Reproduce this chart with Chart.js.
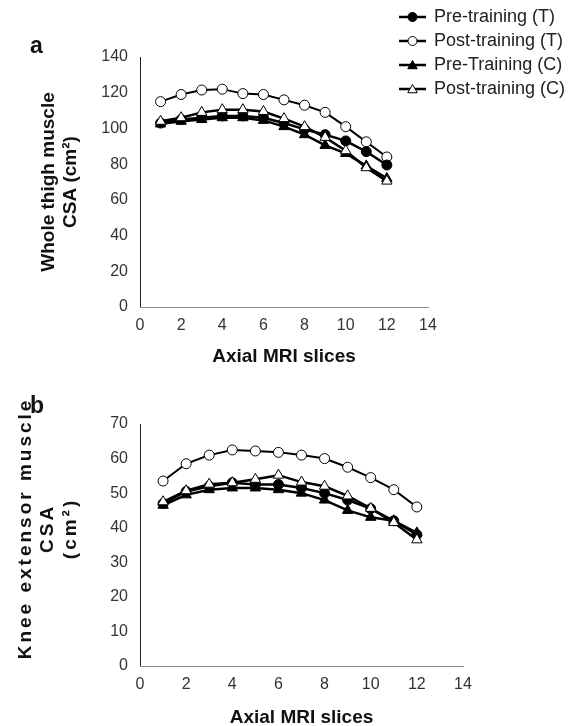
<!DOCTYPE html>
<html>
<head>
<meta charset="utf-8">
<script src="https://cdn.jsdelivr.net/npm/chart.js@4.4.1/dist/chart.umd.min.js"></script>
<style>
  body { margin: 0; background: #fff; font-family: "Liberation Sans", Arial, sans-serif; }
  #wrap { position: relative; width: 573px; height: 726px; overflow: hidden; }
  .panel { position: absolute; left: 0; }
  .tag { position: absolute; font-weight: bold; font-size: 23px; color: #111; line-height: 1; }
</style>
</head>
<body>
<div id="wrap">
  <canvas id="chartA" class="panel" style="top:0" width="573" height="372"></canvas>
  <canvas id="chartB" class="panel" style="top:372px" width="573" height="354"></canvas>
  <div class="tag" style="left:30px;top:34px">a</div>
  <div class="tag" style="left:30px;top:394px">b</div>
</div>
<script>
const slices = [1, 2, 3, 4, 5, 6, 7, 8, 9, 10, 11, 12];
const seriesNames = ['Pre-training (T)', 'Post-training (T)', 'Pre-Training (C)', 'Post-training (C)'];

// panel a - whole thigh CSA (cm2)
const thighPreT  = [103, 105, 106, 107, 107, 106, 103, 99.5, 96.5, 93, 87, 79.5];
const thighPostT = [115, 119, 121.5, 122, 119.5, 119, 116, 113, 109, 101, 92.5, 84];
const thighPreC  = [102.5, 104, 105, 106, 106, 104.5, 101, 96.5, 90.5, 86, 79, 72];
const thighPostC = [104, 106, 109, 110.5, 110.5, 109.5, 105.5, 101, 95, 87.5, 78, 70.5];

// panel b - knee extensor CSA (cm2)
const kneePreT  = [47, 50.5, 52, 53, 52.5, 52.5, 51.5, 50, 48, 45.5, 42, 38];
const kneePostT = [53.5, 58.5, 61, 62.5, 62.2, 61.8, 61, 60, 57.5, 54.5, 51, 46];
const kneePreC  = [46.5, 49.5, 51, 51.5, 51.5, 51, 50, 48, 45, 43, 42, 38.5];
const kneePostC = [47.5, 50.7, 52.6, 53, 54, 55.2, 53.2, 52, 49.2, 45.6, 41.5, 36.5];

const xTicks = [0, 2, 4, 6, 8, 10, 12, 14];

const FONT = '"Liberation Sans", Arial, sans-serif';
const styles = [
  { pointStyle: 'circle',   fill: '#000', radius: 5, width: 2.5, order: 2 },
  { pointStyle: 'circle',   fill: '#fff', radius: 5, width: 2,   order: 3 },
  { pointStyle: 'triangle', fill: '#000', radius: 6, width: 2.5, order: 1 },
  { pointStyle: 'triangle', fill: '#fff', radius: 6, width: 2.5, order: 0 }
];

function makeDatasets(list) {
  return list.map((vals, i) => ({
    label: seriesNames[i],
    data: slices.map((s, j) => ({ x: s, y: vals[j] })),
    borderColor: '#000',
    borderWidth: styles[i].width,
    backgroundColor: styles[i].fill,
    pointStyle: styles[i].pointStyle,
    pointRadius: styles[i].radius,
    pointBackgroundColor: styles[i].fill,
    pointBorderColor: '#000',
    pointBorderWidth: 1,
    order: styles[i].order,
    tension: 0
  }));
}

function makeScales(o) {
  return {
    x: {
      type: 'linear', min: 0, max: 14,
      afterBuildTicks: (s) => { s.ticks = xTicks.map(v => ({ value: v })); },
      afterFit: (s) => { s.height = o.xHeight; },
      // x title drawn after the datasets (z 1) so it is not spread like the y title
      grid: { display: false, drawTicks: false, z: 1 },
      border: { display: true, color: '#8c8c8c', width: 1, z: 1 },
      ticks: { padding: 9, color: '#333', z: 1, font: { family: FONT, size: 16 } },
      title: {
        display: true, text: 'Axial MRI slices', color: '#111',
        font: { family: FONT, size: 19, weight: 'bold' },
        padding: { top: 0, bottom: o.xTitlePad }
      }
    },
    y: {
      min: 0, max: o.yMax,
      ticks: { stepSize: o.yStep, padding: 12, color: '#333', z: 1, font: { family: FONT, size: 16 } },
      afterFit: (s) => { s.width = 140; },
      grid: { display: false, drawTicks: false },
      border: { display: true, color: '#222', width: 1 },
      title: {
        display: true, text: o.yTitle, color: '#111',
        font: { family: FONT, size: 19, weight: 'bold', lineHeight: 1.2 },
        padding: { top: o.yTitlePad, bottom: 0 }
      }
    }
  };
}

// legend on the right top, line + marker + text
const sideLegend = {
  id: 'sideLegend',
  afterDraw(chart) {
    const ctx = chart.ctx;
    ctx.save();
    chart.data.datasets.forEach((ds, i) => {
      const y = 17 + i * 24;
      ctx.strokeStyle = '#000';
      ctx.lineWidth = 2.5;
      ctx.beginPath(); ctx.moveTo(399, y); ctx.lineTo(426, y); ctx.stroke();
      ctx.fillStyle = ds.pointBackgroundColor;
      ctx.lineWidth = 1;
      ctx.beginPath();
      if (ds.pointStyle === 'circle') {
        ctx.arc(412.5, y, 4.5, 0, Math.PI * 2);
      } else {
        const r = 5.5;
        for (let k = 0; k < 3; k++) {
          const a = k * 2 * Math.PI / 3;
          const px = 412.5 + Math.sin(a) * r, py = y + 1 - Math.cos(a) * r;
          k === 0 ? ctx.moveTo(px, py) : ctx.lineTo(px, py);
        }
        ctx.closePath();
      }
      ctx.fill(); ctx.stroke();
      ctx.fillStyle = '#222';
      ctx.font = '18px ' + FONT;
      ctx.textBaseline = 'middle';
      ctx.textAlign = 'left';
      ctx.fillText(ds.label, 434, y);
    });
    ctx.restore();
  }
};

// the knee extensor axis title is spread out in the original
const spreadTitle = {
  id: 'spreadTitle',
  beforeDraw(chart) { chart.ctx.letterSpacing = '3px'; },
  beforeDatasetsDraw(chart) { chart.ctx.letterSpacing = '0px'; }
};

const common = {
  responsive: false,
  animation: false,
  plugins: { legend: { display: false }, tooltip: { enabled: false } }
};

new Chart(document.getElementById('chartA').getContext('2d'), {
  type: 'line',
  data: { datasets: makeDatasets([thighPreT, thighPostT, thighPreC, thighPostC]) },
  options: {
    ...common,
    layout: { padding: { left: 0, top: 57, right: 145, bottom: 0 } },
    scales: makeScales({ yMax: 140, yStep: 20, xHeight: 65, xTitlePad: 4,
      yTitle: ['Whole thigh muscle', 'CSA (cm²)'], yTitlePad: 37 })
  },
  plugins: [sideLegend]
});

new Chart(document.getElementById('chartB').getContext('2d'), {
  type: 'line',
  data: { datasets: makeDatasets([kneePreT, kneePostT, kneePreC, kneePostC]) },
  options: {
    ...common,
    layout: { padding: { left: 0, top: 52, right: 110, bottom: 0 } },
    scales: makeScales({ yMax: 70, yStep: 10, xHeight: 60, xTitlePad: -3,
      yTitle: ['    Knee extensor muscle', '    CSA', '    (cm²)'], yTitlePad: 14 })
  },
  plugins: [spreadTitle]
});
</script>
</body>
</html>
